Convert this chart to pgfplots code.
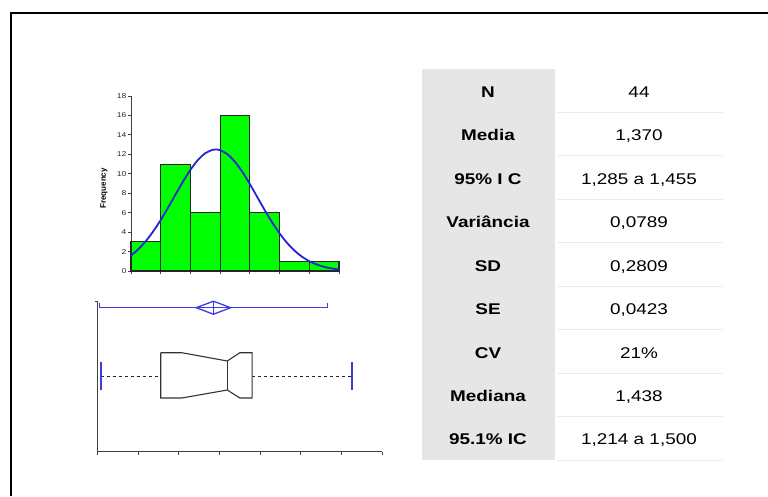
\documentclass[border=0pt]{standalone}
\usepackage{pgfplots}
\pgfplotsset{compat=1.18}
\usepackage{fontspec}
\setmainfont{Liberation Sans}
\newfontfamily\tabfont[FakeStretch=1.22]{Liberation Sans}
\definecolor{bargreen}{RGB}{0,255,0}
\definecolor{curveblue}{RGB}{35,35,215}
\definecolor{boxblue}{RGB}{60,60,230}
\definecolor{cellgrey}{RGB}{230,230,230}
\definecolor{linegrey}{RGB}{236,236,236}
\begin{document}
\begin{tikzpicture}[x=1pt,y=1pt]
\path[use as bounding box] (0,0) rectangle (768,-496);
\draw[line width=2pt, line join=miter] (11,-496) -- (11,-12.5) -- (768,-12.5);

% ---------- histogram ----------
\begin{axis}[at={(131pt,-271pt)}, anchor=south west, scale only axis,
  width=208pt, height=175pt, xmin=0.8, xmax=2.2, ymin=0, ymax=18,
  axis lines=left, axis line style={-, draw=black!75, line width=1pt},
  xtick={0.8,1.0,1.2,1.4,1.6,1.8,2.0,2.2}, xticklabels={},
  ytick={0,2,4,6,8,10,12,14,16,18},
  tick align=outside, major tick length=3pt,
  tick style={draw=black!75, line width=0.9pt},
  yticklabel style={font=\tabfont\fontsize{7}{8}\selectfont, text=black!85, inner sep=1.5pt},
  /pgf/number format/assume math mode=true, clip=false]
\addplot[ybar interval, fill=bargreen, draw=black!85, line width=1.1pt]
  coordinates {(0.8,3)(1.0,11)(1.2,6)(1.4,16)(1.6,6)(1.8,1)(2.0,1)(2.2,0)};
\addplot[curveblue, line width=1.8pt, smooth] coordinates {
 (0.80,1.595)(0.85,2.252)(0.90,3.082)(0.95,4.087)(1.00,5.249)(1.05,6.531)
 (1.10,7.874)(1.15,9.197)(1.20,10.407)(1.25,11.408)(1.30,12.115)(1.35,12.467)
 (1.37,12.498)(1.40,12.427)(1.45,12.002)(1.50,11.228)(1.55,10.178)(1.60,8.939)
 (1.65,7.605)(1.70,6.268)(1.75,5.005)(1.80,3.873)(1.85,2.902)(1.90,2.107)
 (1.95,1.482)(2.00,1.010)(2.05,0.667)(2.10,0.427)(2.15,0.265)(2.20,0.159)};
\node[rotate=90, font=\bfseries\fontsize{8}{9}\selectfont] at ([xshift=-27pt]axis cs:0.8,8.5) {Frequency};
\end{axis}

% ---------- box plot ----------
\begin{axis}[at={(97.7pt,-451.7pt)}, anchor=south west, scale only axis,
  width=284.3pt, height=150pt, xmin=0.8, xmax=2.2, ymin=0, ymax=150,
  axis lines=left, axis line style={-, draw=black!75, line width=1pt},
  xtick={0.8,1.0,1.2,1.4,1.6,1.8,2.0,2.2}, xticklabels={},
  ytick={150}, yticklabels={},
  tick align=outside, major tick length=3pt,
  tick style={draw=black!75, line width=0.9pt}, clip=false]
% mean +/- 2 SD with CI diamond
\addplot[boxblue, line width=1.3pt] coordinates {(0.81,148.5)(0.81,144)(1.93,144)(1.93,148.5)};
\addplot[boxblue, line width=1.3pt, line join=miter] coordinates {(1.285,144)(1.37,150.5)(1.455,144)(1.37,137.5)(1.285,144)};
\addplot[boxblue, line width=1.3pt] coordinates {(1.37,137.5)(1.37,150.5)};
% whiskers
\addplot[black!85, line width=1pt, dash pattern=on 3pt off 3pt] coordinates {(0.815,75.4)(1.1105,75.4)};
\addplot[black!85, line width=1pt, dash pattern=on 3pt off 3pt] coordinates {(1.5605,75.4)(2.053,75.4)};
\addplot[boxblue, line width=1.6pt] coordinates {(0.815,61.7)(0.815,89.7)};
\addplot[boxblue, line width=1.6pt] coordinates {(2.053,61.7)(2.053,89.7)};
% notched box
\addplot[black!80, line width=1.1pt, line join=miter, fill=white] coordinates {
 (1.1105,99)(1.214,99)(1.438,90.7)(1.5,99)(1.5605,99)(1.5605,53.7)(1.5,53.7)
 (1.438,61.7)(1.214,53.7)(1.1105,53.7)(1.1105,99)};
\addplot[black!80, line width=1.1pt] coordinates {(1.438,61.7)(1.438,90.7)};
\end{axis}

% ---------- statistics table ----------
\fill[cellgrey] (421.7,-69) rectangle (555,-460);
\foreach \k in {0,...,8} {
  \draw[linegrey, line width=0.8pt] (557,{-112.3-43.46*\k}) -- (723,{-112.3-43.46*\k});
}
\foreach \k/\lab/\val in {0/N/44, 1/Media/{1,370}, 2/95\% I C/{1,285 a 1,455},
  3/Variância/{0,0789}, 4/SD/{0,2809}, 5/SE/{0,0423}, 6/CV/21\%,
  7/Mediana/{1,438}, 8/95.1\% IC/{1,214 a 1,500}} {
  \node[anchor=base, font=\tabfont\bfseries\fontsize{15.5}{18}\selectfont, inner sep=0pt]
    at (488,{-97.3-43.46*\k}) {\lab};
  \node[anchor=base, font=\tabfont\fontsize{15.5}{18}\selectfont, inner sep=0pt]
    at (639,{-97.3-43.46*\k}) {\val};
}
\end{tikzpicture}
\end{document}
